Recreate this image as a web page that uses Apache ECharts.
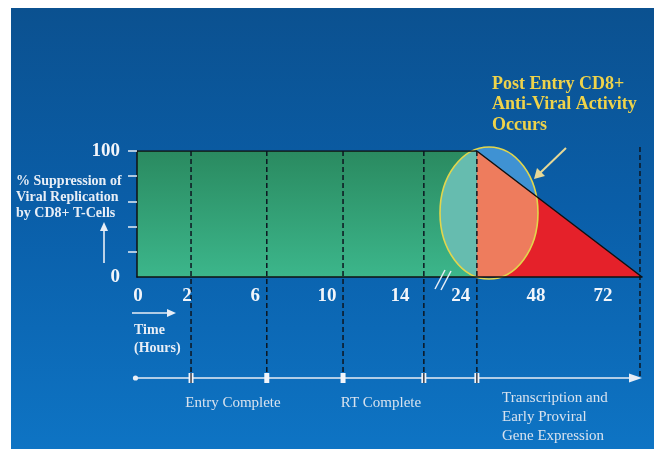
<!DOCTYPE html>
<html>
<head>
<meta charset="utf-8">
<script src="https://cdn.jsdelivr.net/npm/echarts@6/dist/echarts.min.js"></script>
<style>
  html, body { margin: 0; padding: 0; background: #ffffff; }
  #wrap { position: relative; width: 658px; height: 449px; overflow: hidden; }
  #panel { position: absolute; left: 11px; top: 8px; width: 643px; height: 441px;
           background: linear-gradient(180deg, #0b5190 0%, #0a5ea8 45%, #0e74c4 100%); }
  #chart { position: absolute; left: 0; top: 0; width: 658px; height: 449px; }
</style>
</head>
<body>
<div id="wrap"><div id="panel"></div><div id="chart"></div></div>
<script>
// Time track (schematic, broken after 14 h): tick text and its place on a 0-100 track
const hourLabels  = ['0', '2', '6', '10', '14', '24', '48', '72'];
const hourLabelAt = [0.2, 9.9, 23.4, 37.6, 52.1, 64.1, 79.0, 92.3];

// Stage boundaries (dashed guides) on the same track, and their timeline markers
const stageAt     = [10.7, 25.7, 40.8, 56.8, 67.3, 99.6];
const stageMarker = ['open', 'solid', 'solid', 'open', 'open'];

// % suppression of viral replication: full block up to 24 h, then decline to zero
const blockX     = [0, 67.3];
const blockPct   = [100, 100];
const declineX   = [67.3, 100];
const declinePct = [100, 0];

// y axis ticks / labels
const yTicks  = [20, 40, 60, 80, 100];
const yLabels = [0, 100];

// Stage captions under the timeline
const stageNames = ['Entry Complete', 'RT Complete', 'Transcription and\nEarly Proviral\nGene Expression'];

// Highlight ellipse around the post-entry window (track units / % units)
const focus = { x: 69.7, y: 50.8, rx: 9.7, ry: 52.4 };

const SERIF = '"Liberation Serif", "DejaVu Serif", serif';
const TIMELINE_Y = 378;

function clipHalf(poly, f) {
  const out = [];
  for (let i = 0; i < poly.length; i++) {
    const a = poly[i], b = poly[(i + 1) % poly.length];
    const fa = f(a), fb = f(b);
    if (fa >= 0) out.push(a);
    if ((fa >= 0) !== (fb >= 0)) {
      const t = fa / (fa - fb);
      out.push([a[0] + (b[0] - a[0]) * t, a[1] + (b[1] - a[1]) * t]);
    }
  }
  return out;
}

const chart = echarts.init(document.getElementById('chart'), null, { renderer: 'canvas' });

const pair = (xs, ys) => xs.map((x, i) => [x, ys[i]]);
const outline = pair(blockX, blockPct).concat(pair(declineX, declinePct).slice(1));

const option = {
  animation: false,
  backgroundColor: 'transparent',
  grid: { left: 137, right: 16, top: 151, bottom: 172, containLabel: false, outerBoundsMode: 'none' },
  xAxis: {
    type: 'value', min: 0, max: 100, z: 10,
    axisLine: { show: true, onZero: false, lineStyle: { color: '#111111', width: 1.5 } },
    axisTick: { show: false },
    splitLine: { show: false },
    axisLabel: {
      customValues: hourLabelAt,
      formatter: function (v) {
        let best = 0;
        hourLabelAt.forEach((p, i) => { if (Math.abs(p - v) < Math.abs(hourLabelAt[best] - v)) best = i; });
        return hourLabels[best];
      },
      color: '#f2f5fa', fontFamily: SERIF, fontWeight: 'bold', fontSize: 19, margin: 10
    }
  },
  yAxis: {
    type: 'value', min: 0, max: 100, interval: 20, z: 10,
    axisLine: { show: true, lineStyle: { color: '#111111', width: 1.5 } },
    axisTick: { show: true, customValues: yTicks, length: 9, lineStyle: { color: '#e6edf5', width: 1.5 } },
    splitLine: { show: false },
    axisLabel: {
      customValues: yLabels,
      color: '#f2f5fa', fontFamily: SERIF, fontWeight: 'bold', fontSize: 19, margin: 17
    }
  },
  series: [
    {
      name: 'Suppression (block)', type: 'line', z: 2, silent: true,
      data: pair(blockX, blockPct), symbol: 'none',
      lineStyle: { width: 0 },
      areaStyle: {
        opacity: 1,
        color: new echarts.graphic.LinearGradient(0, 0, 0, 1, [
          { offset: 0, color: '#2a8a60' }, { offset: 1, color: '#3cb68b' }
        ])
      }
    },
    {
      name: 'Suppression (decline)', type: 'line', z: 2, silent: true,
      data: pair(declineX, declinePct), symbol: 'none',
      lineStyle: { width: 0 },
      areaStyle: { opacity: 1, color: '#e5212a' }
    },
    {
      name: 'Focus window', type: 'custom', z: 3, silent: true, clip: false,
      data: [[focus.x, focus.y]],
      renderItem: function (params, api) {
        const c = api.coord([focus.x, focus.y]);
        const rx = api.coord([focus.x + focus.rx, focus.y])[0] - c[0];
        const ry = c[1] - api.coord([focus.x, focus.y + focus.ry])[1];
        const ell = [];
        for (let i = 0; i < 180; i++) {
          const a = (i / 180) * Math.PI * 2;
          ell.push([c[0] + rx * Math.cos(a), c[1] + ry * Math.sin(a)]);
        }
        const p0 = api.coord([declineX[0], declinePct[0]]);
        const p1 = api.coord([declineX[1], declinePct[1]]);
        const base = api.coord([blockX[0], 0])[1];
        const hyp = p => (p[1] - p0[1]) * (p1[0] - p0[0]) - (p[0] - p0[0]) * (p1[1] - p0[1]);
        let teal = clipHalf(ell, p => p0[0] - p[0]);
        teal = clipHalf(teal, p => p[1] - p0[1]);
        teal = clipHalf(teal, p => base - p[1]);
        let salmon = clipHalf(ell, p => p[0] - p0[0]);
        salmon = clipHalf(salmon, hyp);
        salmon = clipHalf(salmon, p => base - p[1]);
        let blue = clipHalf(ell, p => p[0] - p0[0]);
        blue = clipHalf(blue, p => -hyp(p));
        return {
          type: 'group',
          children: [
            { type: 'polygon', shape: { points: teal }, style: { fill: '#66bcaf' } },
            { type: 'polygon', shape: { points: salmon }, style: { fill: '#ee7c5d' } },
            { type: 'polygon', shape: { points: blue }, style: { fill: '#3f92d3' } },
            { type: 'ellipse', shape: { cx: c[0], cy: c[1], rx: rx, ry: ry },
              style: { fill: null, stroke: '#e2d64c', lineWidth: 1.6 } }
          ]
        };
      }
    },
    {
      name: 'Suppression outline', type: 'line', z: 4, silent: true,
      data: outline, symbol: 'none',
      lineStyle: { color: '#111111', width: 1.5 }
    },
    {
      name: 'Stage guides', type: 'custom', z: 5, silent: true, clip: false,
      data: stageAt.map((x, i) => [x, i]),
      renderItem: function (params, api) {
        const x = api.value(0);
        const top = api.coord([x, 100]);
        const isLast = params.dataIndex === stageAt.length - 1;
        return {
          type: 'line',
          shape: { x1: top[0], y1: top[1] - (isLast ? 4 : 0), x2: top[0], y2: TIMELINE_Y - 2 },
          style: { stroke: '#0d1620', lineWidth: 1.5, lineDash: [5, 3] }
        };
      }
    },
    {
      name: 'Timeline', type: 'custom', z: 6, silent: true, clip: false,
      data: [[0, 0]],
      renderItem: function (params, api) {
        const y = TIMELINE_Y;
        const x0 = api.coord([-0.3, 0])[0];
        const x1 = api.coord([100, 0])[0];
        const children = [
          { type: 'line', shape: { x1: x0, y1: y, x2: x1 - 4, y2: y },
            style: { stroke: '#e8eef6', lineWidth: 1.6 } },
          { type: 'polygon', shape: { points: [[x1, y], [x1 - 13, y - 4.5], [x1 - 13, y + 4.5]] },
            style: { fill: '#e8eef6' } },
          { type: 'circle', shape: { cx: x0, cy: y, r: 2.6 }, style: { fill: '#e8eef6' } }
        ];
        stageMarker.forEach((kind, i) => {
          const mx = api.coord([stageAt[i], 0])[0];
          if (kind === 'solid') {
            children.push({ type: 'rect', shape: { x: mx - 2.5, y: y - 5, width: 5, height: 10 },
              style: { fill: '#f2f5fa' } });
          } else {
            children.push({ type: 'rect', shape: { x: mx - 2.5, y: y - 5, width: 5, height: 10 },
              style: { fill: '#f2f5fa' } });
            children.push({ type: 'line', shape: { x1: mx, y1: y - 5, x2: mx, y2: y + 5 },
              style: { stroke: '#1a2230', lineWidth: 1.3 } });
          }
        });
        return { type: 'group', children: children };
      }
    }
  ],
  graphic: [
    { type: 'text', left: 16, top: 173, z: 100, silent: true,
      style: { text: '% Suppression of\nViral Replication\nby CD8+ T-Cells', fill: '#e8eef6',
               font: 'bold 14px ' + SERIF, lineHeight: 16 } },
    { type: 'line', z: 100, silent: true, shape: { x1: 104, y1: 263, x2: 104, y2: 229 },
      style: { stroke: '#e8eef6', lineWidth: 1.6 } },
    { type: 'polygon', z: 100, silent: true, shape: { points: [[104, 222], [100, 231], [108, 231]] },
      style: { fill: '#e8eef6' } },
    { type: 'line', z: 100, silent: true, shape: { x1: 132, y1: 313, x2: 168, y2: 313 },
      style: { stroke: '#e8eef6', lineWidth: 1.6 } },
    { type: 'polygon', z: 100, silent: true, shape: { points: [[176, 313], [167, 309], [167, 317]] },
      style: { fill: '#e8eef6' } },
    { type: 'text', left: 134, top: 321, z: 100, silent: true,
      style: { text: 'Time\n(Hours)', fill: '#e8eef6', font: 'bold 14px ' + SERIF, lineHeight: 18 } },
    { type: 'line', z: 100, silent: true, shape: { x1: 435, y1: 289, x2: 445, y2: 270 },
      style: { stroke: '#e8eef6', lineWidth: 1.5 } },
    { type: 'line', z: 100, silent: true, shape: { x1: 441, y1: 290, x2: 451, y2: 271 },
      style: { stroke: '#e8eef6', lineWidth: 1.5 } },
    { type: 'text', left: 492, top: 74, z: 100, silent: true,
      style: { text: 'Post Entry CD8+\nAnti-Viral Activity\nOccurs', fill: '#efd34a',
               font: 'bold 18px ' + SERIF, lineHeight: 20.5 } },
    { type: 'line', z: 100, silent: true, shape: { x1: 566, y1: 148, x2: 540, y2: 173 },
      style: { stroke: '#e6d896', lineWidth: 2 } },
    { type: 'polygon', z: 100, silent: true, shape: { points: [[534, 179], [537, 168], [545, 176]] },
      style: { fill: '#e6d896' } },
    { type: 'text', x: 233, y: 403, z: 100, silent: true,
      style: { text: stageNames[0], fill: '#d8e2ee', font: '15px ' + SERIF, align: 'center', verticalAlign: 'middle' } },
    { type: 'text', x: 381, y: 403, z: 100, silent: true,
      style: { text: stageNames[1], fill: '#d8e2ee', font: '15px ' + SERIF, align: 'center', verticalAlign: 'middle' } },
    { type: 'text', left: 502, top: 389, z: 100, silent: true,
      style: { text: stageNames[2], fill: '#d8e2ee', font: '15px ' + SERIF, lineHeight: 19 } }
  ]
};

chart.setOption(option);
</script>
</body>
</html>
